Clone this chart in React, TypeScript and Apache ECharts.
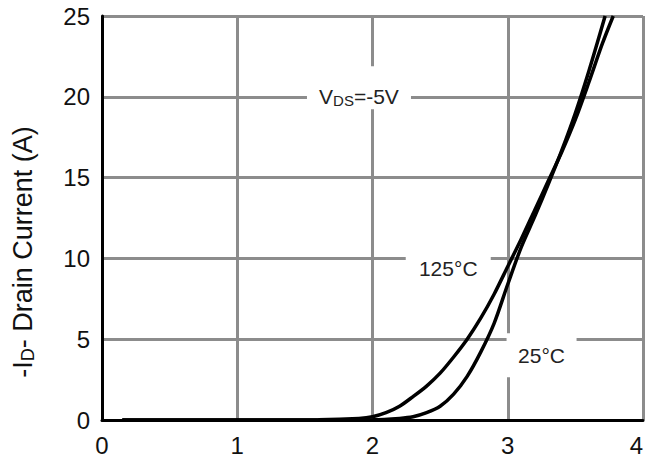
import React, { useEffect, useRef } from "react";
import * as echarts from "echarts";

const xTicks = [0, 1, 2, 3, 4];
const yTicks = [0, 5, 10, 15, 20, 25];

const vgs125 = [0.15, 1.0, 1.6, 1.9, 2.0, 2.1, 2.2, 2.3, 2.4, 2.5, 2.6, 2.7, 2.8, 2.9, 3.0, 3.1, 3.2, 3.3, 3.4, 3.5, 3.6, 3.7, 3.78];
const id125 = [0, 0, 0.02, 0.1, 0.2, 0.45, 0.85, 1.45, 2.1, 2.9, 3.9, 5.0, 6.3, 7.8, 9.5, 11.2, 13.0, 14.8, 16.6, 18.6, 20.9, 23.3, 25];

const vgs25 = [0.15, 1.0, 2.0, 2.2, 2.3, 2.4, 2.5, 2.6, 2.7, 2.8, 2.9, 3.0, 3.1, 3.2, 3.3, 3.4, 3.5, 3.6, 3.72];
const id25 = [0, 0, 0.02, 0.1, 0.2, 0.45, 0.85, 1.6, 2.7, 4.2, 6.0, 8.4, 10.7, 12.6, 14.6, 16.7, 19.0, 21.6, 25];

const labels = [
  { key: "vds", x: 1.9, y: 20, w: 104, h: 43, dy: -9 },
  { key: "t125", x: 2.56, y: 9.4, w: 85, h: 34, dy: -2 },
  { key: "t25", x: 3.25, y: 4.0, w: 70, h: 44, dy: 0 },
];

const yName = "{n|-I}{s|D}{n|- Drain Current (A)}";

const FONT = "'Liberation Sans', Arial, Helvetica, sans-serif";

export default function App() {
  const ref = useRef<HTMLDivElement>(null);
  useEffect(() => {
    const chart = echarts.init(ref.current!, null, { renderer: "svg" });
    const pair = (xs: number[], ys: number[]) => xs.map((v, i) => [v, ys[i]]);
    chart.setOption({
      animation: false,
      grid: { left: 102, right: 3, top: 16, bottom: 43, containLabel: false, outerBoundsMode: "none" },
      xAxis: {
        type: "value",
        min: xTicks[0],
        max: xTicks[xTicks.length - 1],
        interval: 1,
        axisLine: { show: true, onZero: false, lineStyle: { color: "#000", width: 3 } },
        axisTick: { show: false },
        axisLabel: { fontSize: 24, color: "#111", margin: 13, fontFamily: FONT, alignMaxLabel: "right" },
        splitLine: { show: true, lineStyle: { color: "#8c8c8c", width: 3 } },
      },
      yAxis: {
        type: "value",
        min: yTicks[0],
        max: yTicks[yTicks.length - 1],
        interval: 5,
        axisLine: { show: true, onZero: false, lineStyle: { color: "#000", width: 3 } },
        axisTick: { show: false },
        axisLabel: { fontSize: 24, color: "#111", margin: 12, fontFamily: FONT },
        splitLine: { show: true, lineStyle: { color: "#8c8c8c", width: 3 } },
      },
      series: [
        {
          name: "125°C",
          type: "line",
          data: pair(vgs125, id125),
          smooth: 0.3,
          showSymbol: false,
          lineStyle: { color: "#000", width: 3.5 },
          z: 5,
        },
        {
          name: "25°C",
          type: "line",
          data: pair(vgs25, id25),
          smooth: 0.3,
          showSymbol: false,
          lineStyle: { color: "#000", width: 3.5 },
          z: 5,
        },
      ],
    });

    const texts: Record<string, any> = {
      vds: {
        text: "{a|V}{b|DS}{a|=-5V}",
        rich: {
          a: { fontSize: 21, fontFamily: FONT, fill: "#222", lineHeight: 26 },
          b: { fontSize: 15, fontFamily: FONT, fill: "#222", lineHeight: 26, padding: [8, 0, 0, 0] },
        },
      },
      t125: { text: "125°C", fontSize: 21, fontFamily: FONT, fill: "#222" },
      t25: { text: "25°C", fontSize: 21, fontFamily: FONT, fill: "#222" },
    };
    const elements: any[] = [];
    labels.forEach((l) => {
      const p = chart.convertToPixel({ gridIndex: 0 }, [l.x, l.y]) as number[];
      elements.push({
        type: "rect",
        z: 100,
        shape: { x: p[0] - l.w / 2, y: p[1] - l.h / 2 + l.dy, width: l.w, height: l.h },
        style: { fill: "#fff" },
      });
      elements.push({
        type: "text",
        z: 101,
        x: p[0],
        y: p[1],
        style: { ...texts[l.key], align: "center", verticalAlign: "middle" },
      });
    });
    // y-axis title, rotated
    const yMid = chart.convertToPixel({ gridIndex: 0 }, [0, 10.4]) as number[];
    elements.push({
      type: "text",
      z: 101,
      x: 23,
      y: yMid[1],
      rotation: Math.PI / 2,
      style: {
        text: yName,
        align: "center",
        verticalAlign: "middle",
        rich: {
          n: { fontSize: 27, fontFamily: FONT, fill: "#111", lineHeight: 32 },
          s: { fontSize: 18, fontFamily: FONT, fill: "#111", lineHeight: 32, padding: [10, 0, 0, 0] },
        },
      },
    });
    chart.setOption({ graphic: elements });

    return () => chart.dispose();
  }, []);
  return (
    <div
      ref={ref}
      style={{ position: "absolute", left: 0, top: 0, width: 646, height: 463, background: "#fff" }}
    />
  );
}
